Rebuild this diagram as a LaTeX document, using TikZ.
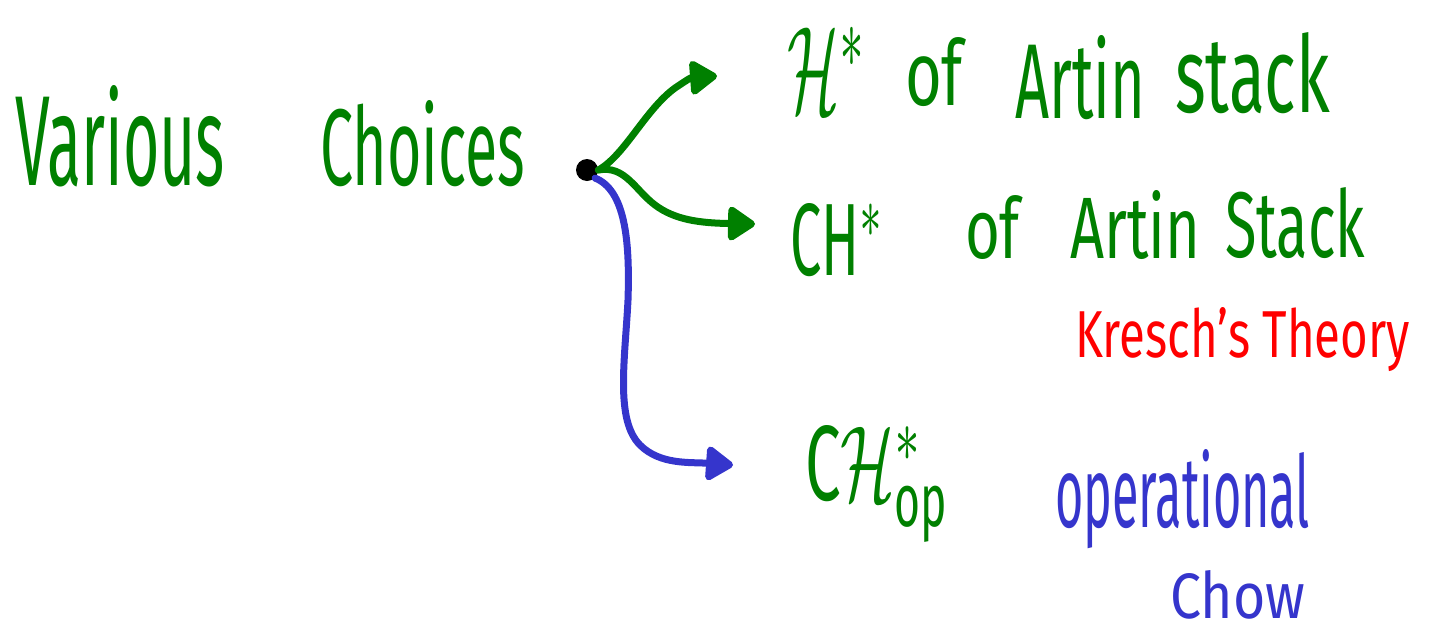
\documentclass[tikz,border=0pt]{standalone}
\usepackage{fontspec}
\setmainfont{Fira Sans}
\usepackage{graphicx}
\usetikzlibrary{arrows.meta}
\definecolor{hwgreen}{RGB}{0,128,0}
\definecolor{hwblue}{RGB}{53,53,204}
\definecolor{hwred}{RGB}{255,0,0}
\newlength\unitpx
\setlength\unitpx{0.5pt}
\newcommand{\hw}[3]{\resizebox{#1\unitpx}{#2\unitpx}{#3}}
\tikzset{
  hwlabel/.style={anchor=base west, inner sep=0pt, outer sep=0pt},
  greenlabel/.style={hwlabel, text=hwgreen},
  bluelabel/.style={hwlabel, text=hwblue},
  redlabel/.style={hwlabel, text=hwred},
  hwarrow/.style={line width=3.5pt, line cap=round,
    -{Triangle[length=15pt,width=19pt,round]}},
  greenarrow/.style={hwarrow, draw=hwgreen},
  bluearrow/.style={hwarrow, draw=hwblue},
}
\begin{document}
\begin{tikzpicture}[x=0.5pt,y=-0.5pt]
\useasboundingbox (0,0) rectangle (1429,627);
% left text
\node[greenlabel] (various) at (15,185) {\hw{210}{100}{Various}};
\node[greenlabel] (choices) at (320,185) {\hw{205}{85}{Choices}};
% dot
\node[circle, fill=black, minimum size=11pt, inner sep=0pt] (dot) at (587,170) {};
% arrow ends
\coordinate (t1) at (717,76);
\coordinate (t2) at (755,224);
\coordinate (t3) at (733,465);
% arrows
\draw[greenarrow] (dot.east) .. controls (625,155) and (645,110) .. (675,88) .. controls (690,78) .. (t1);
\draw[greenarrow] (dot.east) .. controls (625,165) and (635,190) .. (655,205) .. controls (675,220) and (700,223) .. (t2);
\draw[bluearrow] (dot.south east) .. controls (625,190) and (630,240) .. (628,300) .. controls (625,360) and (615,420) .. (640,445) .. controls (660,465) and (690,462) .. (t3);
% line 1
\node[greenlabel] (h1) at (787,112) {\hw{80}{85}{$\mathcal{H}^{*}$}};
\node[greenlabel] (of1) at (905,105) {\hw{58}{68}{of}};
\node[greenlabel] (artin1) at (1015,118) {\hw{130}{83}{Artin}};
\node[greenlabel] (stack1) at (1175,112) {\hw{155}{80}{stack}};
% line 2
\node[greenlabel] (ch2) at (790,275) {\hw{95}{72}{CH$^{*}$}};
\node[greenlabel] (of2) at (965,258) {\hw{55}{63}{of}};
\node[greenlabel] (artin2) at (1070,258) {\hw{130}{68}{Artin}};
\node[greenlabel] (stack2) at (1225,257) {\hw{140}{70}{Stack}};
\node[redlabel] (kresch) at (1075,357) {\hw{335}{50}{Kresch's Theory}};
% line 3
\node[greenlabel] (ch3) at (805,500) {\hw{145}{75}{C$\mathcal{H}^{*}_{\mathrm{op}}$}};
\node[bluelabel] (oper) at (1055,527) {\hw{255}{78}{operational}};
\node[bluelabel] (chow) at (1170,618) {\hw{135}{48}{Chow}};
\end{tikzpicture}
\end{document}
